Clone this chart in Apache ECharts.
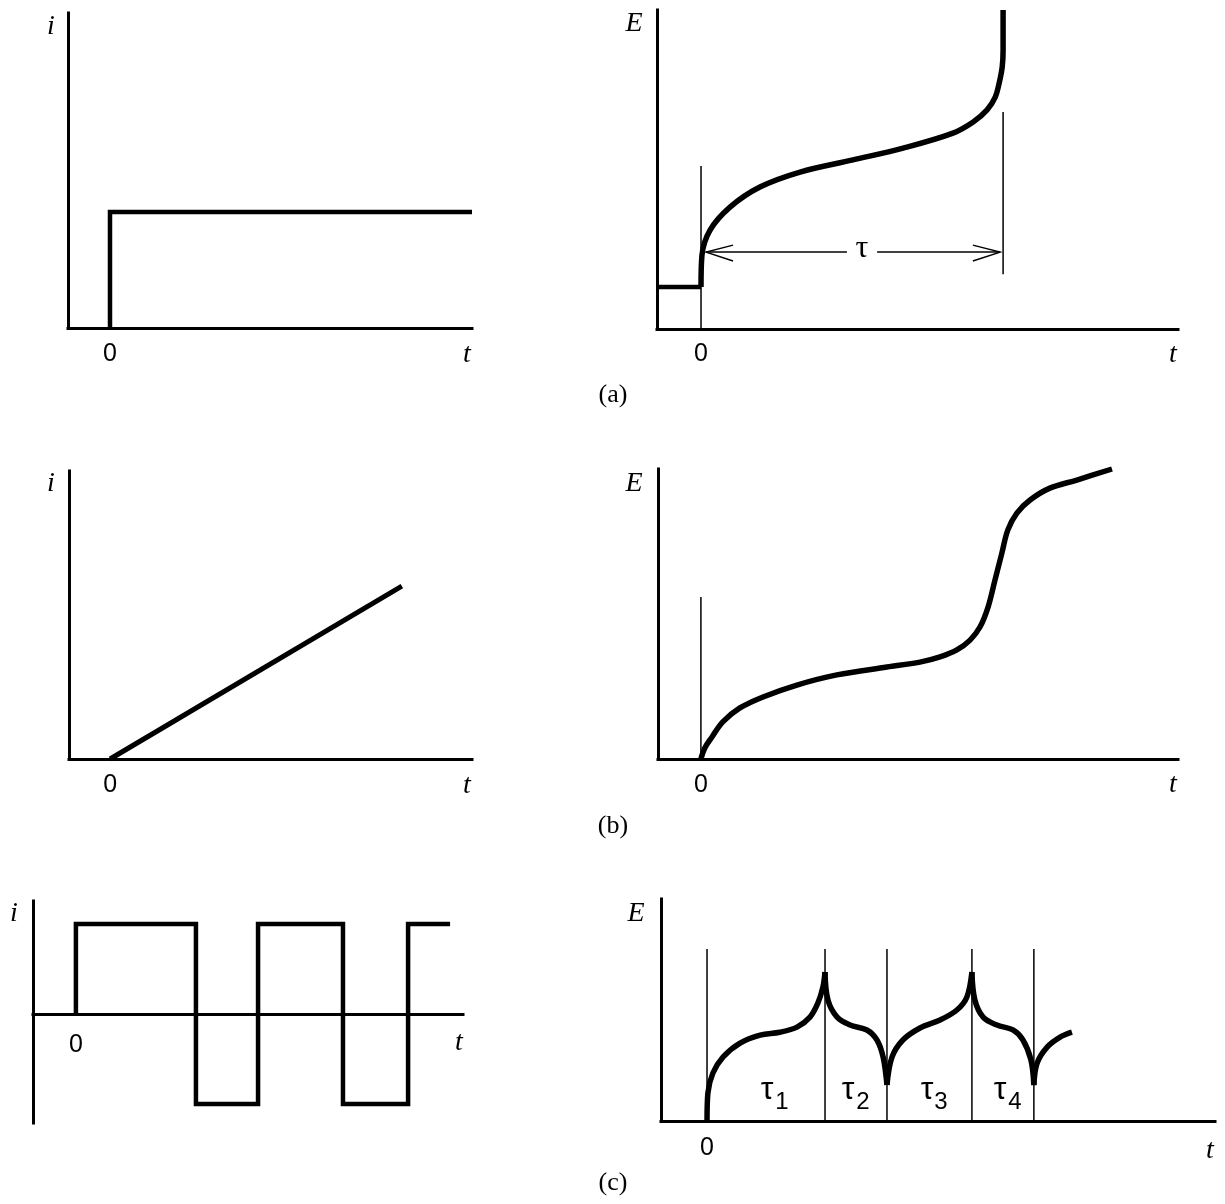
<!DOCTYPE html>
<html>
<head>
<meta charset="utf-8">
<script src="https://cdn.jsdelivr.net/npm/echarts@6/dist/echarts.min.js"></script>
<style>
  html, body { margin: 0; padding: 0; background: #fff; }
  #chart { width: 1225px; height: 1204px; }
</style>
</head>
<body>
<div id="chart"></div>
<script>
// (a) constant-current step: i(t) and the chronopotentiogram E(t)
const stepCurrent = [[0, 0], [0, 3.68], [12.07, 3.68]]
const stepRest = [[-1.457, 1.32], [0, 1.32]]
const stepPotential = [
  [0, 1.32], [0.03, 2.3], [0.3, 3.1], [0.96, 3.82], [1.95, 4.45], [3.28, 4.92],
  [5.03, 5.3], [6.69, 5.67], [8.34, 6.14], [9.01, 6.49], [9.47, 6.87],
  [9.74, 7.27], [9.87, 7.71], [9.97, 8.21], [10.0, 8.75], [10.0, 10.0]
]
// thin guide lines: [t, E from, E to]
const stepGuides = [[0, 0, 5.11], [10, 1.72, 6.8]]
// transition-time arrow (tau), broken round the label
const tauLeft = [[4.83, 2.41], [0.17, 2.41]]
const tauRight = [[5.83, 2.41], [9.9, 2.41]]
const tauHeadLeft = [[1.06, 2.63], [0.17, 2.41], [1.06, 2.13]]
const tauHeadRight = [[9.0, 2.63], [9.9, 2.41], [9.0, 2.13]]

// (b) linearly rising current
const rampCurrent = [[0, 0], [9.73, 6.0]]
const rampPotential = [
  [0, 0], [0.13, 0.38], [0.37, 0.76], [0.73, 1.28], [1.3, 1.76], [2.07, 2.14],
  [3.2, 2.55], [4.53, 2.9], [6.2, 3.17], [7.3, 3.34], [7.97, 3.52], [8.53, 3.76],
  [8.97, 4.1], [9.3, 4.55], [9.57, 5.24], [9.8, 6.17], [10.03, 7.1], [10.23, 7.9],
  [10.53, 8.48], [10.97, 8.93], [11.63, 9.34], [12.53, 9.62], [13.7, 10.0]
]
const rampGuides = [[0, 0, 5.59]]

// (c) current reversal
const reversalCurrent = [
  [0, 0], [0, 3], [4, 3], [4, -3], [6.07, -3], [6.07, 3], [8.9, 3],
  [8.9, -3], [11.07, -3], [11.07, 3], [12.47, 3]
]
const reversalSegments = [
  [[0, 0], [0.03, 1.26], [0.2, 2.16], [0.54, 2.88], [1.12, 3.51], [1.8, 3.87],
   [2.47, 4.0], [3.05, 4.23], [3.49, 4.68], [3.76, 5.32], [3.93, 6.04], [4.0, 6.71]],
  [[4.0, 6.71], [4.1, 5.45], [4.41, 4.68], [4.85, 4.32], [5.42, 4.1], [5.76, 3.65],
   [5.97, 2.88], [6.1, 1.62]],
  [[6.1, 1.62], [6.27, 2.88], [6.64, 3.65], [7.22, 4.19], [7.9, 4.55], [8.47, 5.0],
   [8.81, 5.59], [8.98, 6.71]],
  [[8.98, 6.71], [9.08, 5.45], [9.36, 4.68], [9.83, 4.32], [10.37, 4.1],
   [10.71, 3.65], [10.98, 2.75], [11.08, 1.62]],
  [[11.08, 1.62], [11.19, 2.61], [11.53, 3.33], [11.97, 3.78], [12.37, 4.0]]
]
const reversalTimes = [0, 4, 6.1, 8.98, 11.08]
const reversalGuideTop = 7.75

const panels = [
  { grid: { left: 68, top: 13, width: 404, height: 315 }, x: [-1.4, 12.07], y: [0, 10], zeroMargin: 14 },
  { grid: { left: 657, top: 10, width: 521, height: 319 }, x: [-1.457, 15.79], y: [0, 10], zeroMargin: 13 },
  { grid: { left: 69, top: 471, width: 403, height: 288 }, x: [-1.37, 12.07], y: [0, 10], zeroMargin: 14 },
  { grid: { left: 658, top: 469, width: 520, height: 290 }, x: [-1.43, 15.9], y: [0, 10], zeroMargin: 14 },
  { grid: { left: 33, top: 901, width: 430, height: 222 }, x: [-1.43, 12.9], y: [-3.63, 3.77], zeroMargin: 0 },
  { grid: { left: 661, top: 899, width: 554, height: 222 }, x: [-1.56, 17.22], y: [0, 10], zeroMargin: 15 }
]

const chart = echarts.init(document.getElementById('chart'), null, { renderer: 'canvas' })

const line = (gi, data, width, smooth) => ({
  type: 'line',
  xAxisIndex: gi,
  yAxisIndex: gi,
  data,
  symbol: 'none',
  smooth: smooth || false,
  clip: false,
  silent: true,
  lineStyle: { color: '#000', width, cap: 'butt', join: 'miter' }
})

const guides = (gi, list) => list.map(g => line(gi, [[g[0], g[1]], [g[0], g[2]]], 1.5))

const curve = 0.35

const series = [
  line(0, stepCurrent, 4.5),
  line(1, stepRest, 4.5),
  line(1, stepPotential, 5.5, curve),
  ...guides(1, stepGuides),
  line(1, tauLeft, 1.5),
  line(1, tauRight, 1.5),
  line(1, tauHeadLeft, 1.5),
  line(1, tauHeadRight, 1.5),
  line(2, rampCurrent, 5),
  line(3, rampPotential, 5.5, curve),
  ...guides(3, rampGuides),
  line(4, reversalCurrent, 4.5),
  ...guides(5, reversalTimes.map(t => [t, 0, reversalGuideTop])),
  ...reversalSegments.map(seg => line(5, seg, 5.5, curve))
]

const serif = '"Liberation Serif", "Times New Roman", serif'
const sans = '"Liberation Sans", Arial, sans-serif'
const txt = (text, x, y, font) => ({
  type: 'text', x, y, silent: true,
  style: { text, font, fill: '#000', align: 'center', verticalAlign: 'middle' }
})
const italic = 'italic 28px ' + serif
const tauSans = '32px ' + sans
const subSans = '24px ' + sans
const caption = '26px ' + serif

const graphic = [
  txt('i', 51, 27, italic), txt('t', 467, 355, italic),
  txt('E', 634, 24, italic), txt('t', 1173, 355, italic),
  txt('τ', 862, 249, '32px ' + serif),
  txt('(a)', 613, 395, caption),
  txt('i', 51, 484, italic), txt('t', 467, 786, italic),
  txt('E', 634, 484, italic), txt('t', 1173, 785, italic),
  txt('(b)', 613, 826, caption),
  txt('i', 14, 914, italic), txt('t', 459, 1043, italic),
  txt('0', 76, 1045, '25px ' + sans),
  txt('E', 636, 914, italic), txt('t', 1210, 1151, italic),
  txt('τ', 767, 1090, tauSans), txt('1', 782, 1102, subSans),
  txt('τ', 848, 1090, tauSans), txt('2', 863, 1102, subSans),
  txt('τ', 927, 1090, tauSans), txt('3', 941, 1102, subSans),
  txt('τ', 1000, 1090, tauSans), txt('4', 1015, 1102, subSans),
  txt('(c)', 613, 1183, caption)
]

const option = {
  animation: false,
  backgroundColor: '#fff',
  grid: panels.map(p => ({ ...p.grid, containLabel: false, outerBoundsMode: 'none' })),
  xAxis: panels.map((p, i) => ({
    type: 'value',
    gridIndex: i,
    min: p.x[0],
    max: p.x[1],
    axisLine: { show: true, onZero: true, lineStyle: { color: '#000', width: 3, cap: 'square' } },
    axisTick: { show: false },
    splitLine: { show: false },
    axisLabel: {
      // the crossing axis of panel (c) gets its "0" as text next to the zero line
      show: p.zeroMargin > 0,
      customValues: [0],
      formatter: v => (v === 0 ? '0' : ''),
      color: '#000',
      fontFamily: sans,
      fontSize: 25,
      margin: p.zeroMargin
    }
  })),
  yAxis: panels.map((p, i) => ({
    type: 'value',
    gridIndex: i,
    min: p.y[0],
    max: p.y[1],
    axisLine: { show: true, onZero: false, lineStyle: { color: '#000', width: 3, cap: 'square' } },
    axisTick: { show: false },
    splitLine: { show: false },
    axisLabel: { show: false }
  })),
  series,
  graphic
}

chart.setOption(option)
</script>
</body>
</html>
